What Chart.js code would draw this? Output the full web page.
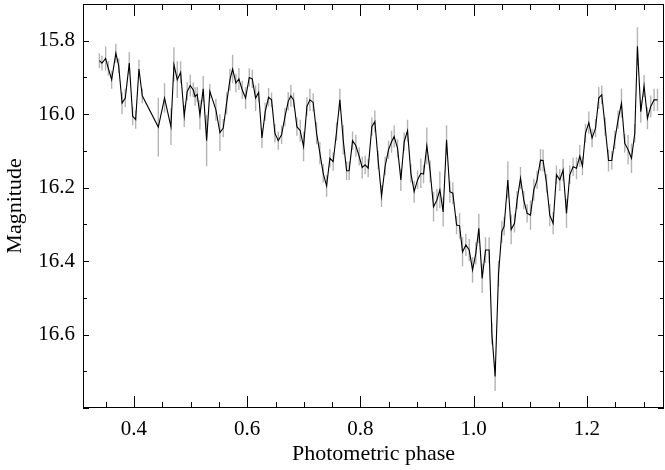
<!DOCTYPE html>
<html>
<head>
<meta charset="utf-8">
<script src="https://cdn.jsdelivr.net/npm/chart.js@4.4.1/dist/chart.umd.min.js"></script>
<style>
  html, body { margin: 0; padding: 0; background: #fff; }
  canvas { display: block; }
</style>
</head>
<body>
<canvas id="lc" width="665" height="470"></canvas>
<script>
// ----- Data -----
const phase = [
  0.339, 0.3435, 0.350, 0.3547, 0.3606, 0.368, 0.373, 0.379, 0.3847, 0.3917,
  0.3977, 0.403, 0.4088, 0.4147, 0.443, 0.454, 0.4653, 0.4706, 0.4765, 0.4824,
  0.4888, 0.494, 0.4994, 0.5047, 0.508, 0.5117, 0.5165, 0.5223, 0.5283, 0.534,
  0.5447, 0.5518, 0.5577, 0.5636, 0.5695, 0.5742, 0.580, 0.5853, 0.5912, 0.5971,
  0.6036, 0.6089, 0.6148, 0.6201, 0.626, 0.6318, 0.6377, 0.643, 0.6489, 0.6548,
  0.6607, 0.6665, 0.6724, 0.6771, 0.6819, 0.6877, 0.6936, 0.6995, 0.7054, 0.7107,
  0.7165, 0.7225, 0.7283, 0.7342, 0.7402, 0.746, 0.7518, 0.7578, 0.7636, 0.7695,
  0.7755, 0.78, 0.786, 0.7919, 0.7977, 0.803, 0.8083, 0.8136, 0.8201, 0.8254,
  0.8312, 0.8372, 0.8436, 0.8495, 0.8549, 0.8595, 0.8655, 0.8713, 0.8772, 0.8831,
  0.889, 0.8948, 0.9008, 0.9066, 0.9114, 0.9172, 0.9231, 0.929, 0.9349, 0.9402,
  0.946, 0.952, 0.9578, 0.9631, 0.9697, 0.975, 0.9802, 0.9861, 0.992, 0.9979,
  1.0037, 1.009, 1.0149, 1.0208, 1.0272, 1.032, 1.0378, 1.0438, 1.0496, 1.0537,
  1.0602, 1.0661, 1.072, 1.0766, 1.0826, 1.0884, 1.0943, 1.1002, 1.1061, 1.1119,
  1.1179, 1.1225, 1.1285, 1.1343, 1.1402, 1.1461, 1.152, 1.1578, 1.1638, 1.1696,
  1.1755, 1.1815, 1.1873, 1.192, 1.1973, 1.2032, 1.209, 1.2151, 1.2208, 1.2261,
  1.232, 1.238, 1.2438, 1.2491, 1.255, 1.2609, 1.2667, 1.2726, 1.2786, 1.2844,
  1.2891, 1.295, 1.3008, 1.3068, 1.3126, 1.3185, 1.3245
];
const mag = [
  15.854, 15.861, 15.848, 15.875, 15.906, 15.834, 15.868, 15.970, 15.956, 15.861,
  16.005, 16.015, 15.877, 15.950, 16.035, 15.956, 16.034, 15.865, 15.906, 15.886,
  16.005, 15.938, 15.922, 15.934, 15.952, 15.946, 16.002, 15.931, 16.072, 15.938,
  15.988, 16.050, 16.038, 15.970, 15.906, 15.877, 15.915, 15.904, 15.934, 15.956,
  15.900, 15.904, 15.956, 15.941, 16.065, 15.993, 15.954, 15.961, 16.052, 16.072,
  16.056, 16.008, 15.965, 15.950, 15.961, 16.034, 16.045, 16.088, 15.979, 15.961,
  15.968, 16.052, 16.106, 16.161, 16.195, 16.120, 16.129, 16.047, 15.961, 16.070,
  16.154, 16.154, 16.072, 16.086, 16.115, 16.145, 16.138, 16.147, 16.034, 16.020,
  16.125, 16.223, 16.141, 16.097, 16.075, 16.061, 16.093, 16.179, 16.075, 16.045,
  16.161, 16.211, 16.179, 16.161, 16.163, 16.086, 16.156, 16.252, 16.234, 16.206,
  16.266, 16.070, 16.211, 16.215, 16.302, 16.304, 16.375, 16.356, 16.370, 16.424,
  16.379, 16.311, 16.447, 16.370, 16.370, 16.597, 16.714, 16.434, 16.320, 16.305,
  16.179, 16.314, 16.297, 16.234, 16.174, 16.234, 16.270, 16.275, 16.206, 16.179,
  16.125, 16.126, 16.188, 16.275, 16.297, 16.165, 16.179, 16.152, 16.270, 16.165,
  16.143, 16.147, 16.114, 16.141, 16.052, 16.023, 16.065, 16.038, 15.956, 15.947,
  16.034, 16.126, 16.126, 16.070, 16.015, 15.970, 16.079, 16.097, 16.120, 16.052,
  15.815, 15.993, 15.923, 16.011, 15.979, 15.961, 15.961
];
const magErr = [
  0.020, 0.020, 0.033, 0.020, 0.025, 0.026, 0.020, 0.030, 0.025, 0.030,
  0.025, 0.025, 0.025, 0.020, 0.080, 0.040, 0.050, 0.047, 0.050, 0.030,
  0.030, 0.025, 0.030, 0.020, 0.025, 0.020, 0.040, 0.035, 0.070, 0.020,
  0.030, 0.050, 0.025, 0.030, 0.030, 0.039, 0.025, 0.030, 0.025, 0.030,
  0.025, 0.025, 0.035, 0.025, 0.027, 0.025, 0.025, 0.020, 0.025, 0.025,
  0.025, 0.025, 0.025, 0.030, 0.020, 0.025, 0.030, 0.040, 0.025, 0.030,
  0.025, 0.030, 0.030, 0.025, 0.030, 0.025, 0.025, 0.025, 0.030, 0.040,
  0.025, 0.025, 0.025, 0.030, 0.025, 0.030, 0.025, 0.025, 0.025, 0.030,
  0.025, 0.030, 0.025, 0.025, 0.030, 0.030, 0.025, 0.030, 0.025, 0.030,
  0.025, 0.030, 0.025, 0.040, 0.025, 0.050, 0.030, 0.040, 0.030, 0.050,
  0.040, 0.040, 0.030, 0.030, 0.025, 0.035, 0.040, 0.030, 0.030, 0.035,
  0.030, 0.040, 0.040, 0.035, 0.035, 0.030, 0.040, 0.035, 0.030, 0.025,
  0.050, 0.040, 0.025, 0.025, 0.030, 0.025, 0.025, 0.040, 0.030, 0.025,
  0.030, 0.030, 0.025, 0.030, 0.030, 0.025, 0.030, 0.030, 0.040, 0.025,
  0.025, 0.030, 0.030, 0.025, 0.025, 0.030, 0.025, 0.025, 0.030, 0.025,
  0.025, 0.030, 0.025, 0.025, 0.025, 0.040, 0.025, 0.040, 0.040, 0.025,
  0.052, 0.030, 0.030, 0.030, 0.030, 0.030, 0.030
];

// ----- Axis tick values -----
const xTicks = [0.4, 0.6, 0.8, 1.0, 1.2];
const yTicks = [15.8, 16.0, 16.2, 16.4, 16.6];
const X_MIN = 0.31, X_MAX = 1.336;
const Y_MIN = 15.7, Y_MAX = 16.8;

const SERIF = "'Liberation Serif', 'DejaVu Serif', serif";

// ----- Error bars, drawn under the line -----
const errorBarPlugin = {
  id: "errorBars",
  beforeDatasetsDraw(chart) {
    const { ctx, scales: { x, y } } = chart;
    ctx.save();
    ctx.strokeStyle = "#b4b4b4";
    ctx.lineWidth = 1.4;
    ctx.beginPath();
    phase.forEach((p, i) => {
      const px = x.getPixelForValue(p);
      ctx.moveTo(px, y.getPixelForValue(mag[i] - magErr[i]));
      ctx.lineTo(px, y.getPixelForValue(mag[i] + magErr[i]));
    });
    ctx.stroke();
    ctx.restore();
  }
};

// ----- Box frame with inward ticks on all four sides -----
const frameTickPlugin = {
  id: "frameTicks",
  afterDraw(chart) {
    const { ctx, chartArea: { left, right, top, bottom }, scales: { x, y } } = chart;
    ctx.save();
    ctx.strokeStyle = "#000";
    ctx.lineWidth = 1;
    ctx.strokeRect(left + 0.5, top + 0.5, right - left - 1, bottom - top - 1);
    ctx.beginPath();
    // x: minor every 0.05, major every 0.2
    for (let k = Math.ceil(X_MIN / 0.05); k * 0.05 <= X_MAX; k++) {
      const v = k * 0.05;
      const major = k % 4 === 0;
      const len = major ? 12 : 6;
      const px = Math.round(x.getPixelForValue(v)) + 0.5;
      ctx.moveTo(px, bottom); ctx.lineTo(px, bottom - len);
      ctx.moveTo(px, top); ctx.lineTo(px, top + len);
    }
    // y: minor every 0.1, major every 0.2
    for (let k = Math.ceil(Y_MIN / 0.1 - 1e-6); k * 0.1 <= Y_MAX + 1e-6; k++) {
      const v = k * 0.1;
      const major = k % 2 === 0;
      const len = major ? 6 : 4;
      const py = Math.round(y.getPixelForValue(v)) + 0.5;
      ctx.moveTo(left, py); ctx.lineTo(left + len, py);
      ctx.moveTo(right, py); ctx.lineTo(right - len, py);
    }
    ctx.stroke();
    ctx.restore();
  }
};

const chart = new Chart(document.getElementById("lc"), {
  type: "line",
  data: {
    datasets: [{
      label: "Light curve",
      data: phase.map((p, i) => ({ x: p, y: mag[i] })),
      borderColor: "#000",
      borderWidth: 1.1,
      pointRadius: 0,
      tension: 0,
      fill: false
    }]
  },
  options: {
    responsive: false,
    animation: false,
    devicePixelRatio: 1,
    layout: { padding: { top: 4, right: 1, left: 0, bottom: 0 } },
    plugins: { legend: { display: false }, tooltip: { enabled: false } },
    scales: {
      x: {
        type: "linear",
        min: X_MIN,
        max: X_MAX,
        afterBuildTicks: (s) => { s.ticks = xTicks.map((v) => ({ value: v })); },
        afterFit: (s) => { s.height = 62; s.paddingLeft = 0; s.paddingRight = 0; },
        grid: { display: false, drawTicks: false },
        border: { display: false },
        ticks: {
          padding: 9,
          color: "#000",
          font: { family: SERIF, size: 21 },
          callback: (v) => Number(v).toFixed(1)
        },
        title: {
          display: true,
          text: "Photometric phase",
          color: "#000",
          font: { family: SERIF, size: 22 },
          padding: { top: 0, bottom: 3 }
        }
      },
      y: {
        reverse: true,
        min: Y_MIN,
        max: Y_MAX,
        afterBuildTicks: (s) => { s.ticks = yTicks.map((v) => ({ value: v })); },
        afterFit: (s) => { s.width = 83; s.paddingTop = 0; s.paddingBottom = 0; },
        grid: { display: false, drawTicks: false },
        border: { display: false },
        ticks: {
          padding: 8,
          color: "#000",
          font: { family: SERIF, size: 21 },
          callback: (v) => Number(v).toFixed(1)
        },
        title: {
          display: true,
          text: "Magnitude",
          color: "#000",
          font: { family: SERIF, size: 22 },
          padding: { top: 2, bottom: 0 }
        }
      }
    }
  },
  plugins: [errorBarPlugin, frameTickPlugin]
});
</script>
</body>
</html>
